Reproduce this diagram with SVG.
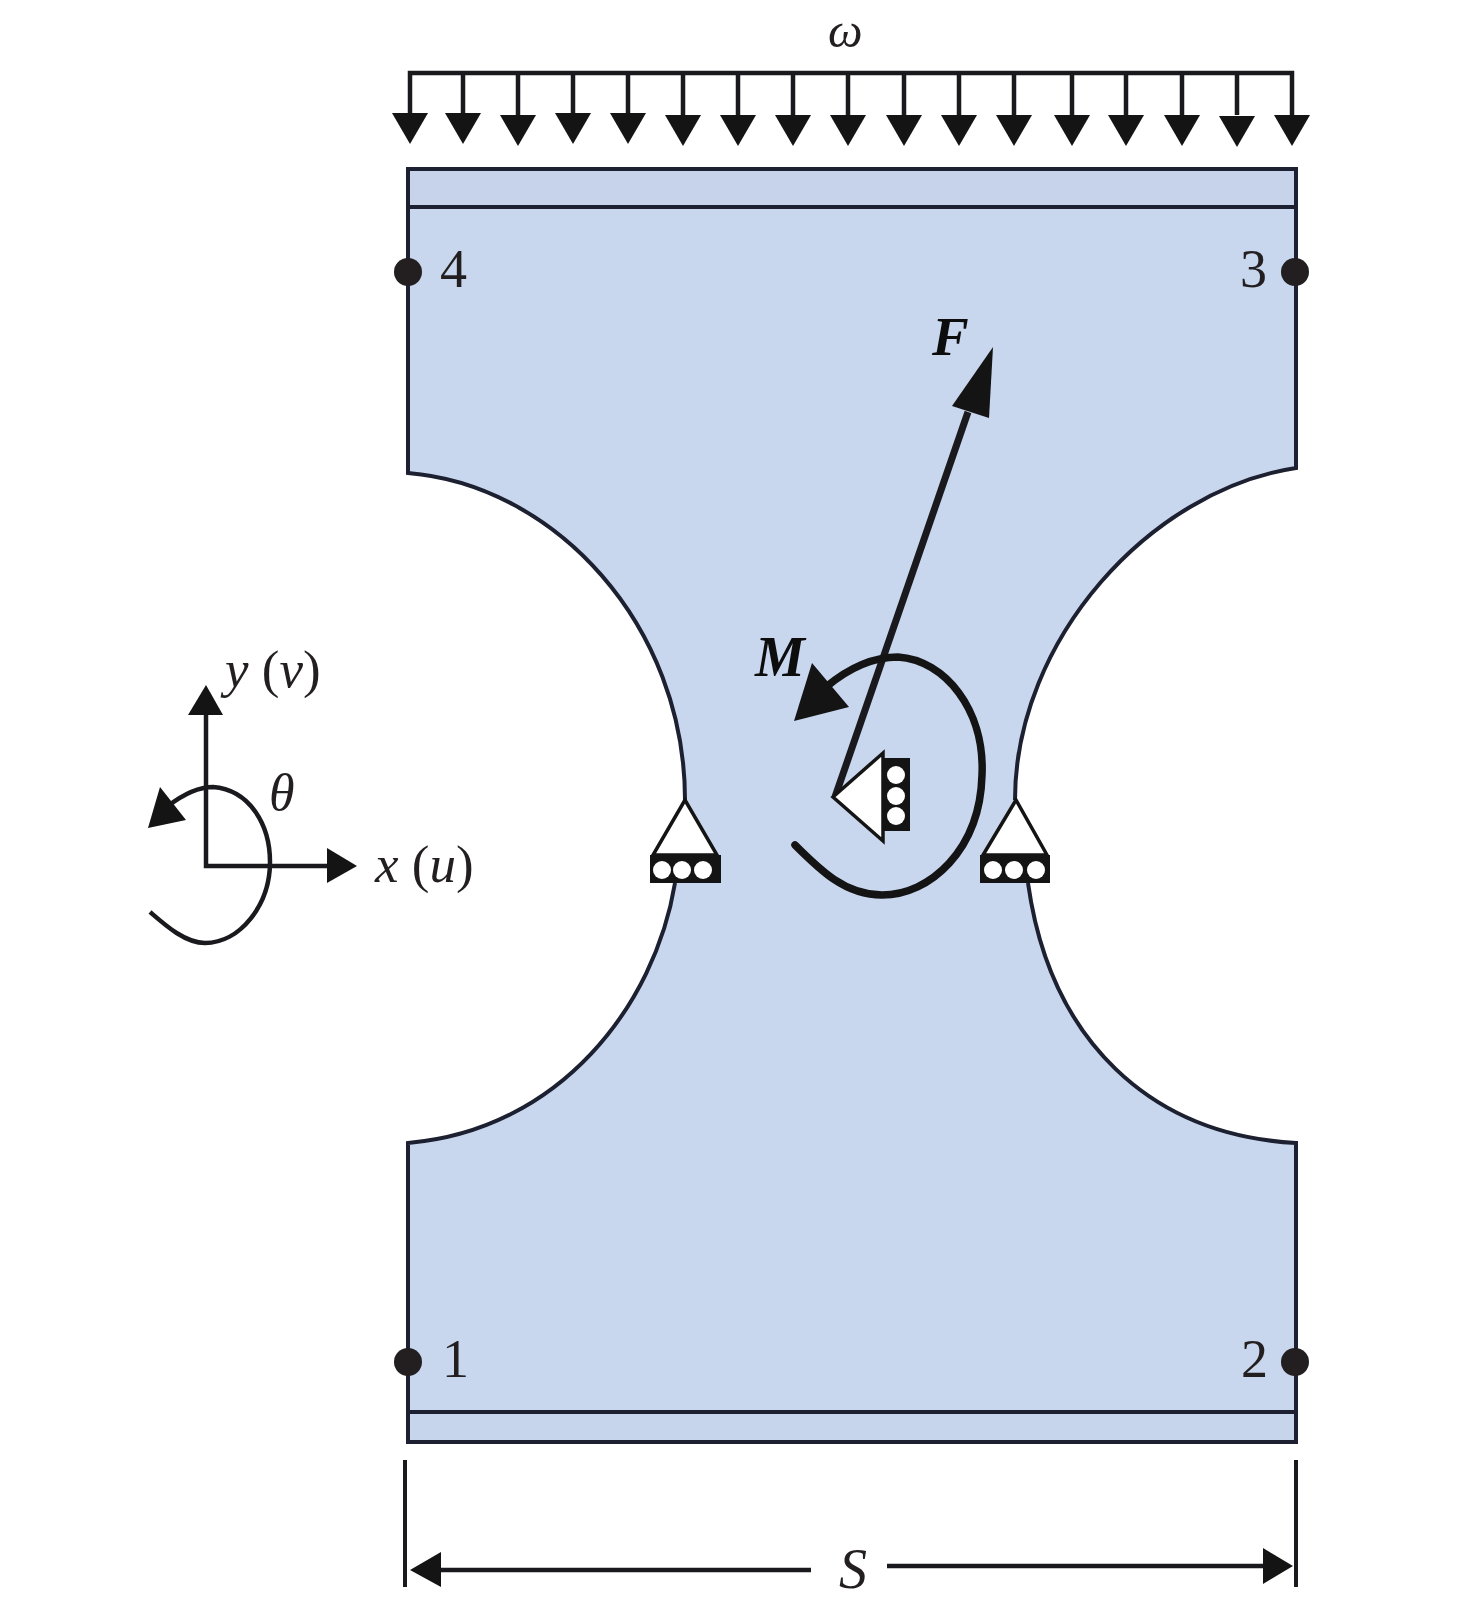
<svg xmlns="http://www.w3.org/2000/svg" width="1476" height="1610" viewBox="0 0 1476 1610">
<defs>
<style>
.t{font-family:"Liberation Serif","Times New Roman",serif;font-size:54px;fill:#231f20}
.i{font-style:italic}
.b{font-weight:bold;font-style:italic;fill:#0d0d0d}
.ln{fill:none;stroke:#1a1a1e;stroke-width:4.5}
.h{fill:#141414;stroke:none}
.out{stroke:#1c2030;stroke-width:4;fill:none}
.wh{fill:#fff;stroke:#141414;stroke-width:3.5;stroke-linejoin:miter}
.bk{fill:#141414}
.c{fill:#fff}
.dot{fill:#231f20}
</style>
<polygon id="dn" class="h" points="-18,0 18,0 0,31"/>
</defs>
<rect width="1476" height="1610" fill="#fff"/>
<g id="plate">
<path d="M408 169H1296V468C1150 490 1015 640 1015 800L1028 883C1050 1040 1150 1135 1296 1143V1442H408V1143C560 1130 655 1005 675 883L685 800C685 625 555 485 408 473Z" fill="#c8d7ee"/>
<rect x="410" y="171" width="884" height="36" fill="#c6d3ea"/>
<rect x="410" y="1412" width="884" height="29" fill="#c6d5ec"/>
<path class="out" d="M685 800C685 625 555 485 408 473V169H1296V468C1150 490 1015 640 1015 800"/>
<path class="out" d="M675 883C655 1005 560 1130 408 1143V1442H1296V1143C1150 1135 1050 1040 1028 883"/>
<path class="out" d="M408 207H1296M408 1412H1296"/>
</g>
<g id="connectors">
<g id="distributed-load">
<path class="ln" d="M410 113V73H1292V115M463 73V113M518 73V115M573 73V113M628 73V113M683 73V115M738 73V115M793 73V115M848 73V115M904 73V115M959 73V115M1014 73V115M1072 73V115M1126 73V115M1182 73V115M1237 73V115"/>
<use href="#dn" x="410" y="113"/><use href="#dn" x="463" y="113"/><use href="#dn" x="518" y="115"/><use href="#dn" x="573" y="113"/><use href="#dn" x="628" y="113"/><use href="#dn" x="683" y="115"/><use href="#dn" x="738" y="115"/><use href="#dn" x="793" y="115"/><use href="#dn" x="848" y="115"/><use href="#dn" x="904" y="115"/><use href="#dn" x="959" y="115"/><use href="#dn" x="1014" y="115"/><use href="#dn" x="1072" y="115"/><use href="#dn" x="1126" y="115"/><use href="#dn" x="1182" y="115"/><use href="#dn" x="1237" y="116"/><use href="#dn" x="1292" y="115"/>
</g>
<g id="force-F">
<path class="ln" style="stroke-width:7" d="M968 412L835 797"/>
<polygon class="h" points="993,347 952,406 989,418"/>
</g>
<g id="moment-M">
<path fill="none" stroke="#141414" stroke-width="7.5" stroke-linecap="round" d="M826 687C850 667 875 657 898 657C945 660 985 710 982 775C980 850 930 895 882 895C845 895 820 870 795 845"/>
<polygon class="h" points="794,721 812,663 849,707"/>
</g>
<g id="axes">
<path class="ln" d="M206 710V866H330"/>
<polygon class="h" points="206,685 188,715 223,715"/>
<polygon class="h" points="357,866 327,848 327,883"/>
<path class="ln" d="M168 806C185 793 200 787 213 787C250 790 270 825 270 862C270 905 240 943 205 943C185 943 165 925 150 912"/>
<polygon class="h" points="148,828 160,787 186,820"/>
</g>
<g id="dimension-S">
<path class="ln" style="stroke-width:4" d="M405 1460V1587M1296 1460V1587"/>
<path class="ln" d="M435 1570H811M887 1566H1270"/>
<polygon class="h" points="410,1570 441,1552 441,1587"/>
<polygon class="h" points="1293,1566 1263,1548 1263,1584"/>
</g>
</g>
<g id="support-left">
<polygon class="wh" points="685,800 653,855 717,855"/>
<rect class="bk" x="650" y="855" width="71" height="28"/>
<circle class="c" cx="662" cy="870" r="9"/><circle class="c" cx="682" cy="870" r="9"/><circle class="c" cx="703" cy="870" r="9"/>
</g>
<g id="support-right">
<polygon class="wh" points="1016,800 983,855 1047,855"/>
<rect class="bk" x="980" y="855" width="70" height="28"/>
<circle class="c" cx="993" cy="870" r="9"/><circle class="c" cx="1014" cy="870" r="9"/><circle class="c" cx="1036" cy="870" r="9"/>
</g>
<g id="support-center">
<polygon class="wh" points="833,797 883,753 883,841"/>
<rect class="bk" x="883" y="758" width="27" height="73"/>
<circle class="c" cx="896" cy="775" r="9"/><circle class="c" cx="896" cy="796" r="9"/><circle class="c" cx="896" cy="816" r="9"/>
</g>
<g id="node-1"><circle class="dot" cx="408" cy="1362" r="14"/><text class="t" x="442" y="1377">1</text></g>
<g id="node-2"><circle class="dot" cx="1295" cy="1362" r="14"/><text class="t" x="1241" y="1377">2</text></g>
<g id="node-3"><circle class="dot" cx="1295" cy="272" r="14"/><text class="t" x="1240" y="287">3</text></g>
<g id="node-4"><circle class="dot" cx="408" cy="272" r="14"/><text class="t" x="440" y="287">4</text></g>
<g id="labels">
<text class="t i" x="828" y="47" style="font-size:49px">ω</text>
<text class="t b" x="932" y="355" style="font-size:55px">F</text>
<text class="t b" x="755" y="676" style="font-size:56px">M</text>
<text class="t" x="225" y="687" style="font-size:53px"><tspan class="i">y</tspan> (<tspan class="i">v</tspan>)</text>
<text class="t" x="375" y="882" style="font-size:53px"><tspan class="i">x</tspan> (<tspan class="i">u</tspan>)</text>
<text class="t i" x="269" y="810" style="font-size:52px">θ</text>
<text class="t i" x="839" y="1588" style="font-size:56px">S</text>
</g>
</svg>
